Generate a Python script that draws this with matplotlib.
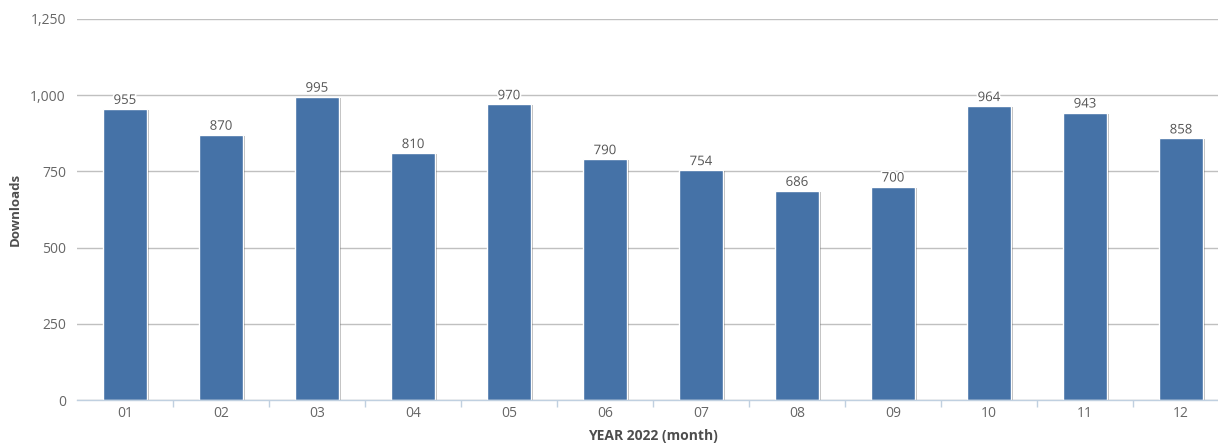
import matplotlib
matplotlib.use("Agg")
import matplotlib.pyplot as plt
import matplotlib.patheffects as pe
from matplotlib.ticker import FuncFormatter, FixedLocator

months = ["01", "02", "03", "04", "05", "06", "07", "08", "09", "10", "11", "12"]
downloads = [955, 870, 995, 810, 970, 790, 754, 686, 700, 964, 943, 858]
y_ticks = [0, 250, 500, 750, 1000, 1250]

plt.rcParams['font.family'] = ['Open Sans', 'DejaVu Sans']

fig = plt.figure(figsize=(12.18, 4.46), dpi=100)
ax = fig.add_axes([77/1218, 46/446, 1152/1218, 381/446])

xs = list(range(len(months)))
bars = ax.bar(xs, downloads, width=0.46, color="#4572A7", edgecolor="white",
              linewidth=1, zorder=3)
for b in bars:
    b.set_path_effects([pe.SimplePatchShadow(offset=(1.5, -0.7), shadow_rgbFace="#000000", alpha=0.28),
                        pe.Normal()])

for x, v in zip(xs, downloads):
    ax.annotate(f"{v}", (x, v), xytext=(0, 1.5), textcoords="offset points",
                ha="center", va="bottom", fontsize=9.5, color="#555555", zorder=5,
                path_effects=[pe.withStroke(linewidth=2.5, foreground="white")])

ax.set_xlim(-0.5, len(months) - 0.5)
ax.set_ylim(0, 1250)
ax.yaxis.set_major_locator(FixedLocator(y_ticks))
ax.yaxis.set_major_formatter(FuncFormatter(lambda v, p: f"{int(v):,}"))
ax.grid(axis="y", color="#C0C0C0", linewidth=1, zorder=0)
ax.set_axisbelow(True)

ax.set_xticks(xs)
ax.set_xticklabels(months)
ax.set_xticks([i + 0.5 for i in xs[:-1]] + [len(months) - 0.5], minor=True)
ax.tick_params(axis="x", which="major", length=0, pad=4, labelsize=10, labelcolor="#666666")
ax.tick_params(axis="x", which="minor", length=5, width=1, color="#C0D0E0")
ax.tick_params(axis="y", length=0, pad=8, labelsize=10, labelcolor="#666666")

for s in ["top", "right", "left"]:
    ax.spines[s].set_visible(False)
ax.spines["bottom"].set_color("#C0D0E0")
ax.spines["bottom"].set_linewidth(1)
ax.spines["bottom"].set_zorder(4)

ax.set_ylabel("Downloads", fontsize=9.5, fontweight="bold", color="#4D4D4D", labelpad=6)
ax.set_xlabel("YEAR 2022 (month)", fontsize=10, fontweight="bold", color="#4D4D4D", labelpad=6)

fig.savefig("out.png", dpi=100)
